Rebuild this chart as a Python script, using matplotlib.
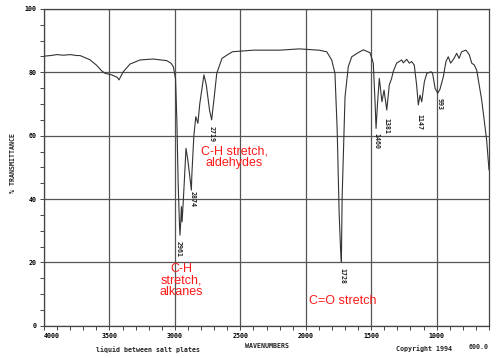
import numpy as np
import matplotlib
matplotlib.use("Agg")
import matplotlib.pyplot as plt
from matplotlib.ticker import MultipleLocator

# IR spectrum: wavenumber (cm-1) and % transmittance
wavenumber = [4000, 3950, 3900, 3850, 3800, 3750, 3725, 3650, 3600, 3560,
              3534, 3483, 3440, 3427, 3410, 3394, 3343, 3267, 3167, 3063,
              3030, 3012, 2995, 2985, 2975, 2965, 2961, 2955, 2950, 2945,
              2935, 2915, 2900, 2874, 2870, 2855, 2840, 2824, 2810, 2778,
              2760, 2735, 2719, 2700, 2680, 2640, 2600, 2560, 2400, 2200,
              2050, 1900, 1840, 1802, 1777, 1760, 1745, 1735, 1728, 1722,
              1700, 1675, 1649, 1600, 1560, 1509, 1484, 1470, 1463, 1452,
              1438, 1418, 1402, 1381, 1362, 1344, 1332, 1306, 1267, 1255,
              1229, 1209, 1191, 1171, 1153, 1140, 1127, 1114, 1094, 1075,
              1059, 1044, 1031, 1012, 992, 975, 949, 929, 911, 893,
              867, 847, 829, 809, 776, 750, 732, 712, 694, 675,
              656, 640, 618, 600]
transmittance = [85.1, 85.3, 85.6, 85.4, 85.6, 85.3, 85.3, 84.0, 82.3, 80.5,
                 79.7, 79.2, 78.4, 77.6, 79.0, 80.2, 82.6, 83.9, 84.2, 83.7,
                 82.9, 81.8, 78.0, 65.0, 45.0, 32.0, 28.6, 33.0, 37.6, 32.8,
                 40.0, 56.0, 52.0, 42.8, 48.0, 60.0, 66.0, 63.9, 70.0, 79.2,
                 76.0, 68.0, 65.0, 72.0, 79.7, 84.4, 85.5, 86.5, 87.0, 87.0,
                 87.4, 87.0, 86.5, 83.9, 79.7, 61.8, 35.6, 25.0, 20.2, 40.7,
                 72.3, 81.8, 84.9, 86.2, 87.1, 86.2, 82.9, 70.0, 62.3, 70.0,
                 78.1, 70.7, 74.4, 68.1, 76.0, 78.1, 80.2, 82.9, 83.9, 83.0,
                 84.1, 82.9, 83.4, 82.3, 76.0, 69.7, 72.8, 70.7, 77.0, 79.7,
                 79.9, 80.2, 79.7, 75.0, 73.4, 74.6, 78.6, 83.4, 84.9, 82.9,
                 84.4, 86.0, 84.4, 86.5, 87.0, 85.5, 82.9, 82.3, 80.7, 76.0,
                 71.3, 66.0, 58.6, 49.2]

# peak labels: text, wavenumber, transmittance of label top
peak_labels = ["2961", "2874", "2719", "1728", "1460", "1381", "1147", "993"]
peak_wn = [2968, 2867, 2719, 1721, 1463, 1383, 1133, 975]
peak_t = [26.8, 42.4, 62.9, 18.2, 61.0, 65.6, 67.0, 72.0]

# red annotations
notes = ["C-H stretch,\naldehydes", "C-H\nstretch,\nalkanes", "C=O stretch"]
note_wn = [2545, 2953, 1718]
note_t = [53.1, 14.3, 7.8]

mono = "DejaVu Sans Mono"
small = 4.8

fig = plt.figure(figsize=(5, 3.58), dpi=100)
ax = fig.add_axes([0.088, 0.0902, 0.89, 0.8847])

ax.plot(wavenumber, transmittance, color="#333333", linewidth=0.8)

ax.set_xlim(4000, 600)
ax.set_ylim(0, 100)
ax.xaxis.set_major_locator(MultipleLocator(500))
ax.xaxis.set_minor_locator(MultipleLocator(100))
ax.yaxis.set_major_locator(MultipleLocator(20))
ax.yaxis.set_minor_locator(MultipleLocator(5))
ax.grid(True, which="major", color="#555555", linewidth=0.9)
ax.tick_params(which="both", direction="out", length=3, width=0.7,
               color="#444444", labelsize=small, pad=2.5)
for s in ax.spines.values():
    s.set_color("#444444")
    s.set_linewidth(0.9)

ax.set_xticks([4000, 3500, 3000, 2500, 2000, 1500, 1000])
ax.set_xticklabels(["4000", "3500", "3000", "2500", "2000", "1500", "1000"],
                   fontfamily=mono, fontweight="bold")
ax.get_xticklabels()[0].set_ha("left")
ax.set_yticks([0, 20, 40, 60, 80, 100])
ax.set_yticklabels(["0", "20", "40", "60", "80", "100"],
                   fontfamily=mono, fontweight="bold")

for lab, w, t in zip(peak_labels, peak_wn, peak_t):
    ax.text(w, t, lab, rotation=-90, ha="center", va="top",
            fontsize=small, fontfamily=mono, fontweight="bold", color="#222222")

for lab, w, t in zip(notes, note_wn, note_t):
    ax.text(w, t, lab, ha="center", va="center", multialignment="center",
            fontsize=9, fontfamily="Liberation Sans", color="#ff1a1a",
            linespacing=0.95)

fig.text(13 / 500, 1 - 163 / 358, "% TRANSMITTANCE", rotation=90,
         ha="center", va="center", fontsize=small, fontfamily=mono,
         fontweight="bold", color="#222222")
fig.text(267 / 500, 1 - 346 / 358, "WAVENUMBERS", ha="center", va="center",
         fontsize=small, fontfamily=mono, fontweight="bold", color="#222222")
fig.text(148.5 / 500, 1 - 349.3 / 358, "liquid between salt plates",
         ha="center", va="center", fontsize=small, fontfamily=mono,
         fontweight="bold", color="#222222")
fig.text(423.7 / 500, 1 - 348.3 / 358, "Copyright 1994", ha="center",
         va="center", fontsize=small, fontfamily=mono, fontweight="bold",
         color="#222222")
fig.text(479 / 500, 1 - 346.7 / 358, "600.0", ha="center", va="center",
         fontsize=small, fontfamily=mono, fontweight="bold", color="#222222")

fig.savefig("out.png", dpi=100)
